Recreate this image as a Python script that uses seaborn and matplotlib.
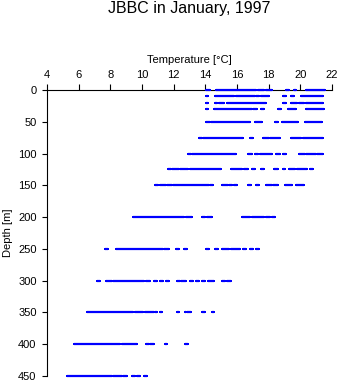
import matplotlib
matplotlib.use("Agg")
import matplotlib.pyplot as plt
import seaborn as sns
import pandas as pd

# Observed temperature runs (start, end) in degC per sampling depth (m)
depths = [0, 10, 20, 30, 50, 75, 100, 125, 150, 200, 250, 300, 350, 400, 450]

runs_0 = [(14.07, 14.28), (14.66, 17.19), (17.33, 17.70), (17.80, 18.20),
          (19.12, 19.27), (19.60, 19.75), (20.38, 21.58)]
runs_10 = [(14.04, 14.20), (14.62, 15.78), (15.92, 17.12), (17.20, 17.37),
           (17.50, 18.00), (18.91, 19.08), (19.39, 19.58), (20.02, 21.41)]
runs_20 = [(14.04, 14.20), (14.62, 14.75), (14.85, 15.17), (15.34, 17.82),
           (18.90, 19.08), (19.40, 19.77), (19.90, 20.26), (20.38, 21.41)]
runs_30 = [(14.04, 14.20), (14.54, 16.92), (16.98, 17.27), (17.50, 17.70),
           (18.60, 18.80), (19.20, 19.75), (20.38, 21.47)]
runs_50 = [(14.04, 14.28), (14.35, 16.80), (17.12, 17.60), (18.38, 18.60),
           (18.87, 19.88), (20.32, 21.40)]
runs_75 = [(13.60, 13.80), (13.87, 16.39), (16.80, 17.00), (17.63, 17.99),
           (18.10, 18.70), (19.39, 20.02), (20.17, 21.43)]
runs_100 = [(12.90, 13.09), (13.13, 15.92), (16.68, 16.95), (17.12, 17.33),
            (17.44, 18.20), (18.49, 18.70), (18.90, 19.08), (19.90, 20.28),
            (20.38, 20.97), (21.08, 21.41)]
runs_125 = [(11.63, 11.80), (11.90, 12.35), (12.43, 12.92), (13.02, 15.02),
            (15.60, 16.30), (16.43, 16.72), (16.93, 17.12), (17.50, 17.70),
            (18.36, 18.57), (18.89, 19.06), (19.29, 19.69), (19.80, 20.43),
            (20.60, 20.78)]
runs_150 = [(10.81, 10.98), (11.13, 11.51), (11.61, 11.87), (11.93, 14.22),
            (14.30, 14.49), (15.08, 15.42), (15.48, 15.69), (15.80, 15.97),
            (16.70, 16.87), (17.20, 17.39), (17.80, 18.20), (18.30, 18.60),
            (19.02, 19.50), (19.75, 20.21)]
runs_200 = [(9.45, 12.66), (12.75, 13.13), (13.82, 14.01), (14.10, 14.41),
            (16.30, 16.80), (16.93, 17.69), (17.82, 18.11), (18.20, 18.38)]
runs_250 = [(7.66, 7.83), (8.33, 11.30), (11.40, 11.70), (12.12, 12.35),
            (12.64, 12.85), (14.07, 14.24), (14.58, 14.77), (15.08, 15.50),
            (15.59, 16.18), (16.41, 16.60), (16.79, 16.98), (17.19, 17.38)]
runs_300 = [(7.13, 7.34), (7.70, 8.08), (8.14, 10.12), (10.25, 10.50),
            (10.75, 10.94), (11.13, 11.32), (11.50, 11.70), (12.22, 12.40),
            (12.48, 12.81), (13.02, 13.21), (13.40, 13.61), (13.82, 14.01),
            (14.20, 14.52), (15.08, 15.27), (15.40, 15.60)]
runs_350 = [(6.52, 9.45), (9.55, 10.08), (10.18, 10.75), (10.80, 10.96),
            (11.13, 11.28), (12.18, 12.35), (12.70, 12.81), (12.87, 13.11),
            (13.82, 13.97), (14.40, 14.57)]
runs_400 = [(5.72, 8.60), (8.71, 9.70), (10.25, 10.42), (10.50, 10.75),
            (11.44, 11.61), (12.73, 12.90)]
runs_450 = [(5.24, 8.08), (8.18, 8.71), (8.81, 9.07), (9.34, 9.55),
            (9.70, 9.87), (10.12, 10.29)]

all_runs = [runs_0, runs_10, runs_20, runs_30, runs_50, runs_75, runs_100,
            runs_125, runs_150, runs_200, runs_250, runs_300, runs_350,
            runs_400, runs_450]

x_ticks = [4, 6, 8, 10, 12, 14, 16, 18, 20, 22]
y_ticks = [0, 50, 100, 150, 200, 250, 300, 350, 400, 450]

rows = []
for d, runs in zip(depths, all_runs):
    for a, b in runs:
        rows.append({"depth": d, "t_start": a, "t_end": b})
runs_df = pd.DataFrame(rows)
ends_df = pd.concat([
    runs_df[["depth", "t_start"]].rename(columns={"t_start": "temp"}),
    runs_df[["depth", "t_end"]].rename(columns={"t_end": "temp"}),
])

sns.set_style("ticks")
plt.rcParams["font.family"] = ["Liberation Sans", "DejaVu Sans"]
for key in ["text.color", "axes.labelcolor", "xtick.color", "ytick.color",
            "axes.edgecolor"]:
    plt.rcParams[key] = "black"

fig = plt.figure(figsize=(3.41, 3.84), dpi=100)
ax = fig.add_axes([47 / 341, 1 - 376 / 384, (332 - 47) / 341, (376 - 90) / 384])

blue = "#0000ff"
ax.hlines(runs_df["depth"], runs_df["t_start"], runs_df["t_end"],
          colors=blue, linewidth=1.6, capstyle="butt", zorder=4, clip_on=False)
sns.scatterplot(data=ends_df, x="temp", y="depth", ax=ax, marker="s", s=2.2,
                color=blue, linewidth=0, zorder=4, clip_on=False, legend=False)

ax.set_xlim(4, 22)
ax.set_ylim(450, 0)
ax.set_xticks(x_ticks)
ax.set_yticks(y_ticks)
ax.xaxis.tick_top()
ax.xaxis.set_label_position("top")
ax.set_xlabel("Temperature [°C]", fontsize=8, labelpad=5)
ax.set_ylabel("Depth [m]", fontsize=8, labelpad=4)
ax.tick_params(axis="x", labelsize=8, length=4, width=0.8, pad=3, colors="black")
ax.tick_params(axis="y", labelsize=8, length=3.5, width=0.8, pad=4, colors="black")

for side in ["right", "bottom"]:
    ax.spines[side].set_visible(False)
for side in ["top", "left"]:
    ax.spines[side].set_linewidth(0.8)
    ax.spines[side].set_color("black")

fig.text((47 + 332) / 2 / 341, 1 - 1 / 384, "JBBC in January, 1997",
         ha="center", va="top", fontsize=11.5, color="black")

fig.savefig("out.png", dpi=100)
